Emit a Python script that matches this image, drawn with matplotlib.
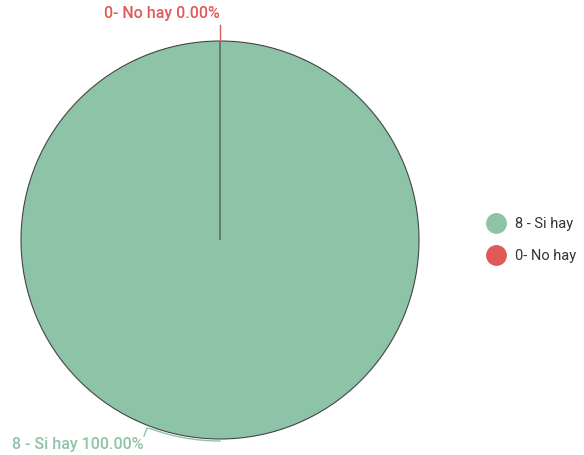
import matplotlib
matplotlib.use('Agg')
import matplotlib.pyplot as plt
import numpy as np
from matplotlib.lines import Line2D

plt.rcParams['font.family'] = ['Roboto', 'DejaVu Sans']

labels = ['8 - Si hay', '0- No hay']
values = [8, 0]
colors = ['#8dc4a8', '#e05a5a']

fig = plt.figure(figsize=(5.84, 4.55), dpi=100)
ax = fig.add_axes([0, 0, 1, 1])

cx, cy, r = 220, 215, 199
wedges, _ = ax.pie(values, colors=colors, startangle=90, counterclock=False,
                   center=(cx, cy), radius=r, frame=True,
                   wedgeprops=dict(edgecolor='#444444', linewidth=0.8))
ax.set_xlim(0, 584)
ax.set_ylim(0, 455)
ax.axis('off')

total = float(sum(values))
pct = [v / total * 100 for v in values]

# label for the zero slice at the top
ax.plot([cx, cx], [cy + r, cy + r + 16], color=colors[1], lw=1)
ax.text(cx, cy + r + 20, '%s %.2f%%' % (labels[1], pct[1]), color=colors[1],
        ha='right', va='bottom', fontsize=11.5, fontweight='medium')

# label for the full slice at the bottom, leader hugging the edge
ang = np.radians(np.linspace(-90, -110, 30))
lx = list(cx + (r + 2) * np.cos(ang)) + [147, 144]
ly = list(cy + (r + 2) * np.sin(ang)) + [27, 19]
ax.plot(lx, ly, color=colors[0], lw=1)
ax.text(143, 10, '%s %.2f%%' % (labels[0], pct[0]), color=colors[0],
        ha='right', va='center', fontsize=11.5, fontweight='medium')

handles = [Line2D([], [], marker='o', linestyle='', markersize=14,
                  markerfacecolor=c, markeredgecolor=c) for c in colors]
ax.legend(handles, labels, loc='center left', bbox_to_anchor=(476 / 584, 215 / 455),
          frameon=False, fontsize=10.5, labelspacing=1.2, handletextpad=0.3,
          labelcolor='#333333', borderaxespad=0)

fig.savefig('out.png', dpi=100)
